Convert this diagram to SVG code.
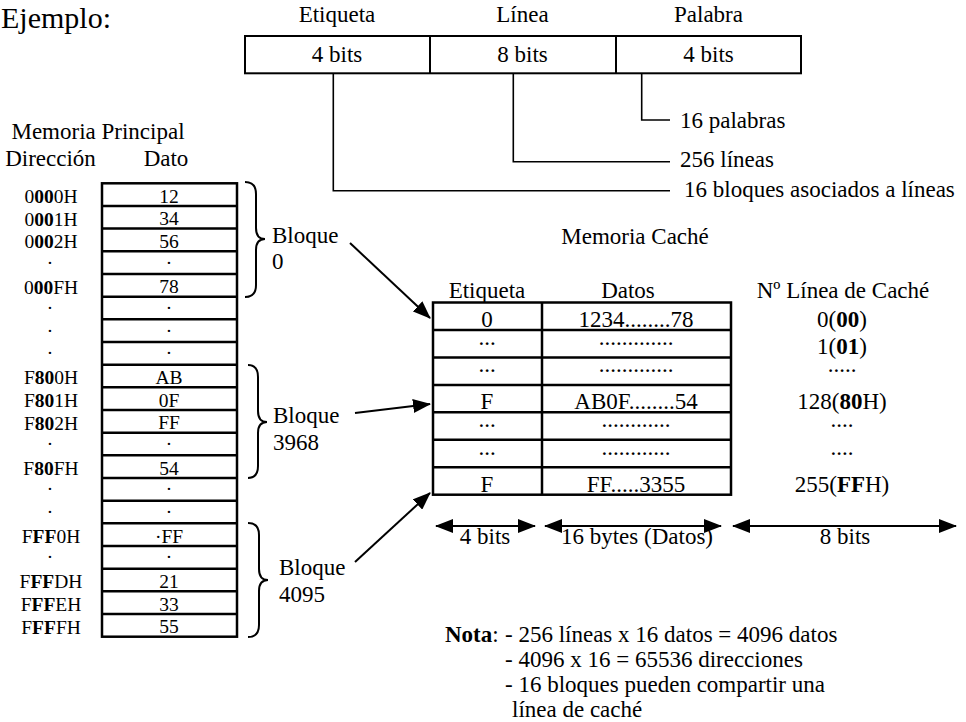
<svg xmlns="http://www.w3.org/2000/svg" width="966" height="722" viewBox="0 0 966 722">
<style>
text { font-family: "Liberation Serif", "Times New Roman", serif; fill: #000; }
.t { font-size: 23px; }
.s { font-size: 19.5px; }
.c { text-anchor: middle; }
.b { font-weight: bold; }
.box { fill: #fff; stroke: #000; stroke-width: 2; }
.tbl { fill: none; stroke: #000; stroke-width: 2.5; }
.ln { fill: none; stroke: #000; stroke-width: 1.6; }
.arr { fill: none; stroke: #000; stroke-width: 2; }
.brace { fill: none; stroke: #000; stroke-width: 2; }
</style>
<defs>
<marker id="ah" viewBox="0 0 18 14" refX="17" refY="7" markerWidth="18" markerHeight="14" markerUnits="userSpaceOnUse" orient="auto-start-reverse"><path d="M0,0 L18,7 L0,14 z" fill="#000"/></marker>
</defs>
<rect x="0" y="0" width="966" height="722" fill="#fff"/>

<g id="titulo">
<text x="1" y="28" style="font-size:30px">Ejemplo:</text>
</g>

<g id="formato-direccion">
<text class="t c" x="337" y="22">Etiqueta</text>
<text class="t c" x="522.5" y="22">Línea</text>
<text class="t c" x="708.5" y="22">Palabra</text>
<rect class="box" x="245" y="36" width="556" height="37.3"/>
<line class="box" x1="430" y1="36" x2="430" y2="73.3"/>
<line class="box" x1="616" y1="36" x2="616" y2="73.3"/>
<text class="t c" x="337" y="61.5">4 bits</text>
<text class="t c" x="522.5" y="61.5">8 bits</text>
<text class="t c" x="708.5" y="61.5">4 bits</text>
</g>

<g id="etiquetas-campos">
<text class="t" x="680" y="128">16 palabras</text>
<text class="t" x="680" y="167">256 líneas</text>
<text class="t" x="684" y="197">16 bloques asociados a líneas</text>
</g>

<g id="memoria-principal">
<text class="t c" x="98" y="139">Memoria Principal</text>
<text class="t c" x="50.5" y="166">Dirección</text>
<text class="t c" x="166" y="166">Dato</text>
<rect class="tbl" x="102" y="183.3" width="135" height="453.4"/>
<path class="tbl" d="M102,206H237M102,228.6H237M102,251.3H237M102,274H237M102,296.7H237M102,319.3H237M102,342H237M102,364.7H237M102,387.3H237M102,410H237M102,432.7H237M102,455.3H237M102,478H237M102,500.7H237M102,523.3H237M102,546H237M102,568.7H237M102,591.3H237M102,614H237"/>
<g class="s c">
<text x="51" y="203">0<tspan class="b">00</tspan>0H</text>
<text x="51" y="225.6">0<tspan class="b">00</tspan>1H</text>
<text x="51" y="248.3">0<tspan class="b">00</tspan>2H</text>
<text x="50" y="263.6">.</text>
<text x="51" y="293.7">0<tspan class="b">00</tspan>FH</text>
<text x="50" y="309">.</text>
<text x="50" y="331.6">.</text>
<text x="50" y="354.3">.</text>
<text x="51" y="384.3">F<tspan class="b">80</tspan>0H</text>
<text x="51" y="407">F<tspan class="b">80</tspan>1H</text>
<text x="51" y="429.7">F<tspan class="b">80</tspan>2H</text>
<text x="50" y="445">.</text>
<text x="51" y="475">F<tspan class="b">80</tspan>FH</text>
<text x="50" y="490.3">.</text>
<text x="50" y="513">.</text>
<text x="51" y="543">F<tspan class="b">FF</tspan>0H</text>
<text x="50" y="558.3">.</text>
<text x="51" y="588.3">F<tspan class="b">FF</tspan>DH</text>
<text x="51" y="611">F<tspan class="b">FF</tspan>EH</text>
<text x="51" y="633.7">F<tspan class="b">FF</tspan>FH</text>
</g>
<g class="s c">
<text x="169" y="202.5">12</text>
<text x="169" y="225.1">34</text>
<text x="169" y="247.8">56</text>
<text x="169" y="263.6">.</text>
<text x="169" y="293.2">78</text>
<text x="169" y="309">.</text>
<text x="169" y="331.6">.</text>
<text x="169" y="354.3">.</text>
<text x="169" y="383.8">AB</text>
<text x="169" y="406.5">0F</text>
<text x="169" y="429.2">FF</text>
<text x="169" y="445">.</text>
<text x="169" y="474.5">54</text>
<text x="169" y="490.3">.</text>
<text x="169" y="513">.</text>
<text x="169" y="542.5">·FF</text>
<text x="169" y="558.3">.</text>
<text x="169" y="587.8">21</text>
<text x="169" y="610.5">33</text>
<text x="169" y="633.2">55</text>
</g>
</g>

<g id="bloque-0">
<path class="brace" d="M245,182 Q256,182 256,194 L256,228 Q256,239 265,239 Q256,239 256,250 L256,285 Q256,297 245,297"/>
<text class="t" x="272" y="243">Bloque</text>
<text class="t" x="272" y="269">0</text>
</g>
<g id="bloque-3968">
<path class="brace" d="M248,365 Q258,365 258,377 L258,411 Q258,422 267,422 Q258,422 258,433 L258,466 Q258,478 248,478"/>
<text class="t" x="273" y="423">Bloque</text>
<text class="t" x="273" y="450">3968</text>
</g>
<g id="bloque-4095">
<path class="brace" d="M248,523 Q259,523 259,535 L259,569 Q259,580 268,580 Q259,580 259,591 L259,625 Q259,637 248,637"/>
<text class="t" x="279" y="575">Bloque</text>
<text class="t" x="279" y="602">4095</text>
</g>

<g id="memoria-cache">
<text class="t c" x="635" y="244">Memoria Caché</text>
<text class="t c" x="487" y="298">Etiqueta</text>
<text class="t c" x="628" y="298">Datos</text>
<text class="t c" x="843" y="298">Nº Línea de Caché</text>
<rect class="tbl" x="433" y="302.5" width="298" height="192.2"/>
<path class="tbl" d="M542,302.5V494.7M433,330H731M433,357.4H731M433,384.9H731M433,412.3H731M433,439.8H731M433,467.2H731"/>
<g class="t c">
<text x="487" y="327">0</text>
<text x="487" y="344.7">...</text>
<text x="487" y="372.2">...</text>
<text x="487" y="409.3">F</text>
<text x="487" y="427">...</text>
<text x="487" y="454.5">...</text>
<text x="487" y="491.7">F</text>
<text x="636" y="327">1234........78</text>
<text x="636" y="344.7">.............</text>
<text x="636" y="372.2">.............</text>
<text x="636" y="409.3">AB0F........54</text>
<text x="636" y="427">............</text>
<text x="636" y="454.5">............</text>
<text x="636" y="491.7">FF.....3355</text>
<text x="842" y="327">0(<tspan class="b">00</tspan>)</text>
<text x="842" y="354.4">1(<tspan class="b">01</tspan>)</text>
<text x="842" y="372.2">.....</text>
<text x="842" y="409.3">128(<tspan class="b">80</tspan>H)</text>
<text x="842" y="427">....</text>
<text x="842" y="454.5">....</text>
<text x="842" y="491.7">255(<tspan class="b">FF</tspan>H)</text>
</g>
</g>

<g id="anchos">
<text class="t c" x="485" y="544">4 bits</text>
<text class="t c" x="637" y="544">16 bytes (Datos)</text>
<text class="t c" x="845" y="544">8 bits</text>
</g>

<g id="nota">
<text class="t" x="445" y="642"><tspan class="b">Nota</tspan>:</text>
<text class="t" x="505" y="642">- 256 líneas x 16 datos = 4096 datos</text>
<text class="t" x="505" y="667">- 4096 x 16 = 65536 direcciones</text>
<text class="t" x="505" y="692">- 16 bloques pueden compartir una</text>
<text class="t" x="512" y="717">línea de caché</text>
</g>

<g id="conectores">
<path class="ln" d="M333.3,73.3V190.7H670"/>
<path class="ln" d="M513.3,73.3V161.7H670"/>
<path class="ln" d="M641.7,73.3V120H670"/>
<line class="arr" x1="350" y1="243" x2="430" y2="318" marker-end="url(#ah)"/>
<line class="arr" x1="355" y1="413" x2="430" y2="404" marker-end="url(#ah)"/>
<line class="arr" x1="355" y1="562" x2="430" y2="493" marker-end="url(#ah)"/>
<line class="arr" x1="436" y1="526" x2="535" y2="526" marker-start="url(#ah)" marker-end="url(#ah)"/>
<line class="arr" x1="545" y1="526" x2="721" y2="526" marker-start="url(#ah)" marker-end="url(#ah)"/>
<line class="arr" x1="733" y1="526" x2="956" y2="526" marker-start="url(#ah)" marker-end="url(#ah)"/>
</g>
</svg>
